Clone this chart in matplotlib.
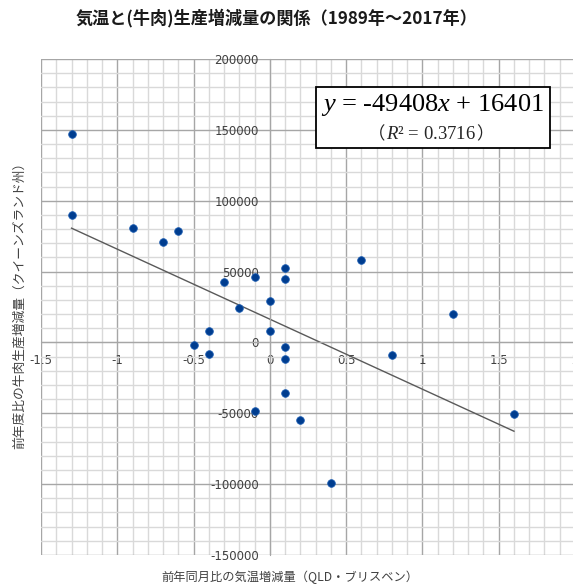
import matplotlib
matplotlib.use("Agg")
import matplotlib.pyplot as plt
from matplotlib.patches import Rectangle
from matplotlib.ticker import MultipleLocator, FixedLocator

plt.rcParams["font.family"] = ["Noto Sans CJK JP", "DejaVu Sans"]
plt.rcParams["axes.unicode_minus"] = False
plt.rcParams["mathtext.fontset"] = "custom"
plt.rcParams["mathtext.rm"] = "Liberation Serif"
plt.rcParams["mathtext.it"] = "Liberation Serif:italic"

# temperature change vs previous year (deg C), Brisbane
temp_change = [-1.3, -1.3, -0.9, -0.7, -0.6, -0.3, -0.2, -0.4, -0.1, 0.0,
               0.0, 0.1, 0.1, 0.6, 1.2, -0.5, -0.4, 0.1, 0.1, 0.1,
               -0.1, 0.2, 0.8, 1.6, 0.4]
# beef production change vs previous year, Queensland
beef_change = [147000, 90000, 80500, 71000, 78500, 42500, 24000, 8000, 46500, 29000,
               8000, 52500, 44500, 58500, 20000, -2000, -8000, -3000, -12000, -35500,
               -48500, -55000, -9000, -50500, -99500]

slope, intercept, r2 = -49408, 16401, 0.3716
fit_x = [-1.3, 1.6]

x_ticks = [-1.5, -1, -0.5, 0, 0.5, 1, 1.5, 2]
y_ticks = [200000, 150000, 100000, 50000, 0, -50000, -100000, -150000]

fig = plt.figure(figsize=(5.73, 5.86), dpi=100)
ax = fig.add_axes([41 / 573, 1 - 555 / 586, 534 / 573, 496 / 586])

ax.set_xlim(-1.5, 2)
ax.set_ylim(-150000, 200000)

ax.xaxis.set_major_locator(FixedLocator(x_ticks))
ax.yaxis.set_major_locator(FixedLocator(y_ticks))
ax.xaxis.set_minor_locator(MultipleLocator(0.1))
ax.yaxis.set_minor_locator(MultipleLocator(10000))
ax.grid(which="minor", color="#d9d9d9", linewidth=1.0)
ax.grid(which="major", color="#a6a6a6", linewidth=1.0)
ax.set_axisbelow(True)

ax.set_xticklabels([("%g" % v) for v in x_ticks])
ax.set_yticklabels([str(v) for v in y_ticks])

for side in ("top", "right"):
    ax.spines[side].set_visible(False)
ax.spines["left"].set_position(("data", 0))
ax.spines["bottom"].set_position(("data", 0))
ax.spines["left"].set_color("#a6a6a6")
ax.spines["bottom"].set_color("#a6a6a6")
ax.tick_params(which="both", length=0)
ax.tick_params(axis="y", pad=8, labelsize=8.5, labelcolor="#404040")
ax.tick_params(axis="x", pad=8, labelsize=8.5, labelcolor="#404040")
for lab in ax.get_yticklabels() + ax.get_xticklabels():
    lab.set_family("DejaVu Sans")

fit_y = [slope * v + intercept for v in fit_x]
ax.plot(fit_x, fit_y, color="#595959", linewidth=1.0, zorder=2)
ax.scatter(temp_change, beef_change, s=30, color="#003d8f",
           edgecolors="#1a5bb0", linewidths=0.6, zorder=3, clip_on=False)

# equation box
ax.add_patch(Rectangle((0.30, 137000), 1.533, 43100, facecolor="white",
                       edgecolor="black", linewidth=1.3, zorder=4))
ax.text(1.065, 167200, r"$y$ = -49408$x$ + %d" % intercept, ha="center", va="center",
        family="Liberation Serif", fontsize=19, zorder=5)
ax.text(1.054, 146600, r"$R$² = %.4f" % r2, ha="center", va="center",
        family="Liberation Serif", fontsize=13.5, color="#262626", zorder=6)
ax.text(0.755, 146600, "（", ha="right", va="center", fontsize=12.5,
        color="#262626", zorder=6)
ax.text(1.352, 146600, "）", ha="left", va="center", fontsize=12.5,
        color="#262626", zorder=6)

fig.text(277 / 573, 1 - 18 / 586, "気温と(牛肉)生産増減量の関係（1989年～2017年）",
         ha="center", va="center", fontsize=12.3, fontweight="bold", color="#1a1a1a")
fig.text(290 / 573, 1 - 577 / 586, "前年同月比の気温増減量（QLD・ブリスベン）",
         ha="center", va="center", fontsize=8.8, color="#404040")
fig.text(20 / 573, 1 - 302 / 586, "前年度比の牛肉生産増減量（クイーンズランド州）",
         ha="center", va="center", rotation=90, fontsize=9.2, color="#404040")

fig.savefig("out.png", dpi=100)
